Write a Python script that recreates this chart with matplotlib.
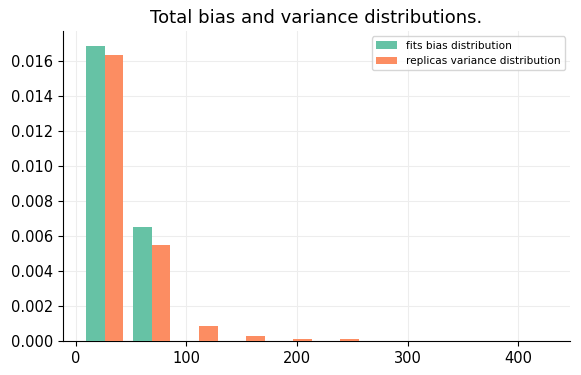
import numpy as np
import matplotlib
matplotlib.use("Agg")
import matplotlib.pyplot as plt

# histogram bin edges
bin_edges = [5.05, 47.55, 90.05, 132.55, 175.05, 217.55, 260.05, 302.55, 345.05, 387.55, 430.05]

# density per bin
bias_density = [0.01689, 0.00655, 0.0, 0.0, 0.0, 0.0, 0.0, 0.0, 0.0, 0.0]
variance_density = [0.01636, 0.00552, 0.00087, 0.00030, 0.00014, 0.00011, 0.00003, 0.0, 0.00002, 0.0]

labels = ["fits bias distribution", "replicas variance distribution"]
colors = ["#66c2a5", "#fc8d62"]

edges = np.array(bin_edges)
centers = (edges[:-1] + edges[1:]) / 2

fig = plt.figure(figsize=(5.81, 3.75), dpi=100)
ax = fig.add_axes([0.108, 0.09, 0.873, 0.827])

ax.hist([centers, centers], bins=edges, weights=[bias_density, variance_density],
        color=colors, label=labels, zorder=3)

ax.grid(True, color="#ededed", linewidth=0.8, zorder=0)
ax.set_axisbelow(True)
ax.spines["top"].set_visible(False)
ax.spines["right"].set_visible(False)
ax.set_yticks(np.arange(0, 0.0161, 0.002))
ax.set_xticks([0, 100, 200, 300, 400])
ax.tick_params(labelsize=10.5)
ax.set_title("Total bias and variance distributions.", fontsize=13)
ax.legend(loc="upper right", fontsize=7.6)

fig.savefig("out.png", dpi=100)
